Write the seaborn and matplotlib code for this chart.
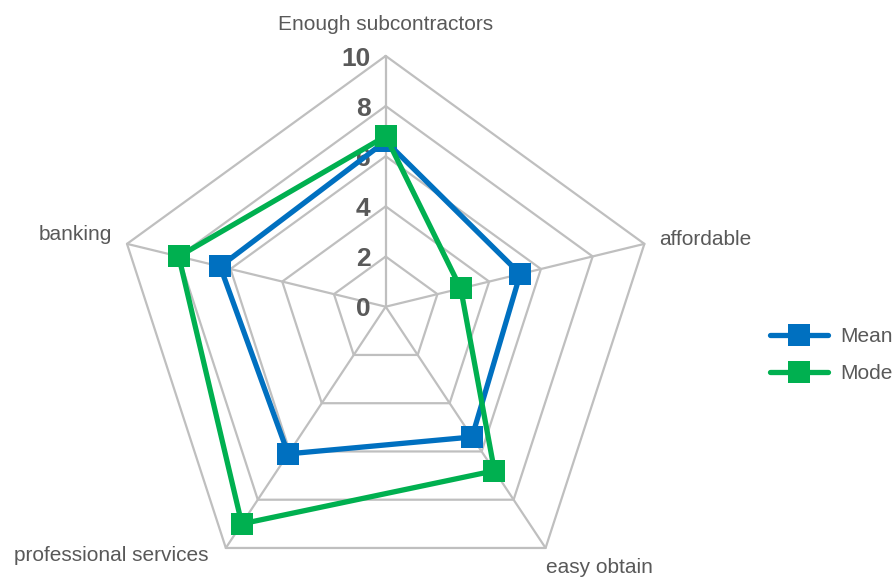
import numpy as np
import pandas as pd
import seaborn as sns
import matplotlib.pyplot as plt

categories = ['Enough subcontractors', 'affordable', 'easy obtain',
              'professional services', 'banking']
mean_vals = [6.6, 5.2, 5.4, 6.1, 6.4]
mode_vals = [6.8, 2.9, 6.8, 9, 8]
ticks = [0, 2, 4, 6, 8, 10]

sns.set_theme(style='white')
plt.rcParams['font.family'] = ['Liberation Sans', 'DejaVu Sans']

grey = '#595959'
grid = '#BFBFBF'
blue = '#0070C0'
green = '#00B050'

angles = np.deg2rad(np.arange(len(categories)) * 72.0)
drop = 0.078  # the original radar sags a little toward the bottom


def to_xy(v, a):
    v = np.asarray(v, dtype=float)
    return v * np.sin(a), v * (np.cos(a) - drop)


fig = plt.figure(figsize=(8.96, 5.78), dpi=100)
ax = fig.add_axes([0, 0, 1, 1])
px = 27.2  # pixels per value unit
cx, cy = 385.7, 306.7
ax.set_xlim(-cx / px, (896 - cx) / px)
ax.set_ylim(-(578 - cy) / px, cy / px)
ax.axis('off')

# pentagon grid and spokes
loop = np.append(angles, angles[0])
for t in ticks[1:]:
    gx, gy = to_xy(np.full(len(loop), t), loop)
    ax.plot(gx, gy, color=grid, lw=1.6, zorder=1)
for a in angles:
    gx, gy = to_xy([0, 10], a)
    ax.plot(gx, gy, color=grid, lw=1.6, zorder=1)

for t in ticks:
    _, ty = to_xy(t, 0.0)
    ax.text(-0.55, ty - 0.1, str(t), ha='right', va='center', fontsize=19,
            fontweight='bold', color=grey, zorder=2)

# series
for name, vals, col in [('Mean', mean_vals, blue), ('Mode', mode_vals, green)]:
    v = np.append(vals, vals[0])
    sx, sy = to_xy(v, loop)
    df = pd.DataFrame({'x': sx, 'y': sy})
    sns.lineplot(data=df, x='x', y='y', sort=False, estimator=None, ax=ax,
                 color=col, lw=3.8, marker='s', markersize=16,
                 markeredgewidth=0, label=name, zorder=3)

# category labels
offsets = [((0, 31), 'center'), ((15, 4), 'left'), ((0, -20), 'left'),
           ((-17, -8), 'right'), ((-15, 9), 'right')]
for cat, a, (off, ha) in zip(categories, angles, offsets):
    vx, vy = to_xy(10, a)
    ax.annotate(cat, (vx, vy), xytext=off, textcoords='offset pixels',
                ha=ha, va='center', fontsize=15, color=grey)

ax.legend(loc='center left', bbox_to_anchor=(770 / 896, 1 - 355 / 578),
          bbox_transform=fig.transFigure, frameon=False, fontsize=15,
          handlelength=2.8, handletextpad=0.55, labelspacing=0.85,
          borderpad=0, borderaxespad=0, labelcolor=grey)

fig.savefig('out.png', dpi=100)
